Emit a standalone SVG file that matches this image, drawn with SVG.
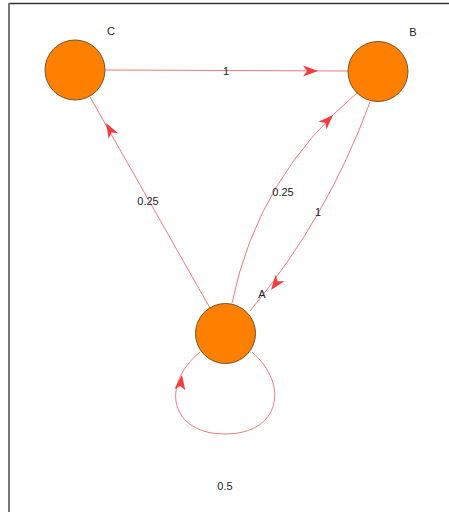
<svg xmlns="http://www.w3.org/2000/svg" xmlns:xlink="http://www.w3.org/1999/xlink" width="449" height="512" viewBox="0 0 449 512">
<style>
.edge{fill:none;stroke:#f27a7a;stroke-width:1}
.head{fill:#f53b3b}
.node{fill:#ff8000;stroke:#7a5228;stroke-width:1}
text{font-family:"Liberation Sans",Arial,sans-serif;font-size:11px;fill:#222;text-anchor:middle;dominant-baseline:central}
</style>
<defs>
<path id="ah" d="M0,0 L-15,-5.5 L-11,0 L-15,5.5 Z"/>
</defs>
<rect x="0" y="0" width="449" height="512" fill="#ffffff"/>
<line x1="9" y1="3.5" x2="449" y2="3.5" stroke="#333" stroke-width="1.5"/>
<line x1="9" y1="3" x2="9" y2="512" stroke="#777" stroke-width="2"/>
<g id="edges">
<line class="edge" x1="105" y1="70" x2="348" y2="71"/>
<use href="#ah" class="head" transform="translate(318,71) rotate(0)"/>
<text x="226" y="71">1</text>
<line class="edge" x1="210" y1="308" x2="90" y2="97"/>
<use href="#ah" class="head" transform="translate(106,123) rotate(-119.7)"/>
<text x="148" y="201">0.25</text>
<path class="edge" d="M232,303 Q258,176.5 357,93"/>
<use href="#ah" class="head" transform="translate(333,115) rotate(-45.6)"/>
<text x="283" y="192">0.25</text>
<path class="edge" d="M370,102 Q328,217 250,311"/>
<use href="#ah" class="head" transform="translate(271,290) rotate(126.8)"/>
<text x="318" y="212">1</text>
<path class="edge" d="M200,352 C160,385 170,434 225,434 C280,434 290,385 252,352"/>
<use href="#ah" class="head" transform="translate(182,375) rotate(-82)"/>
<text x="225" y="486">0.5</text>
</g>
<g id="C"><circle class="node" cx="75" cy="70" r="30"/><text x="111" y="31">C</text></g>
<g id="B"><circle class="node" cx="378" cy="71.5" r="30"/><text x="413" y="32">B</text></g>
<g id="A"><circle class="node" cx="225.5" cy="333.5" r="30"/><text x="262" y="294">A</text></g>
</svg>
